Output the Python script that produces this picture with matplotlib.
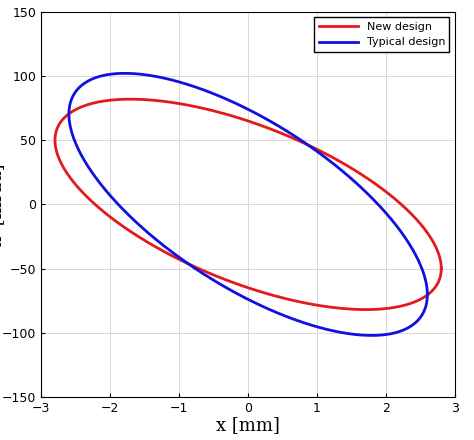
import matplotlib.pyplot as plt
import numpy as np

# Twiss parameters (emittance in mm*mrad, beta in mm/mrad)
labels = ["New design", "Typical design"]
colors = ["#e31a1c", "#1010e0"]
emittance = [182.0, 192.4]
alpha = [0.769, 0.95]
beta = [0.0431, 0.0351]

fig = plt.figure(figsize=(4.74, 4.4), dpi=100)
ax = fig.add_axes([0.087, 0.098, 0.873, 0.875])

t = np.linspace(0, 2 * np.pi, 400)
for lab, col, eps, a, b in zip(labels, colors, emittance, alpha, beta):
    x = np.sqrt(eps * b) * np.cos(t)
    xp = -np.sqrt(eps / b) * (a * np.cos(t) + np.sin(t))
    ax.plot(x, xp, color=col, linewidth=2, label=lab)

ax.set_xlim(-3, 3)
ax.set_ylim(-150, 150)
ax.set_xticks(range(-3, 4))
ax.set_yticks(range(-150, 151, 50))
ax.tick_params(labelsize=9, direction="in", length=3)
ax.grid(True, color="#d8d8d8", linewidth=0.7)
ax.set_axisbelow(True)
ax.set_xlabel("x [mm]", fontsize=13, family="serif", labelpad=1)
ax.set_ylabel("x' [mrad]", fontsize=13, family="serif", labelpad=-2)
ax.legend(loc="upper right", fontsize=8, fancybox=False, edgecolor="black",
          framealpha=1, handlelength=3.5)

fig.savefig("out.png", dpi=100)
